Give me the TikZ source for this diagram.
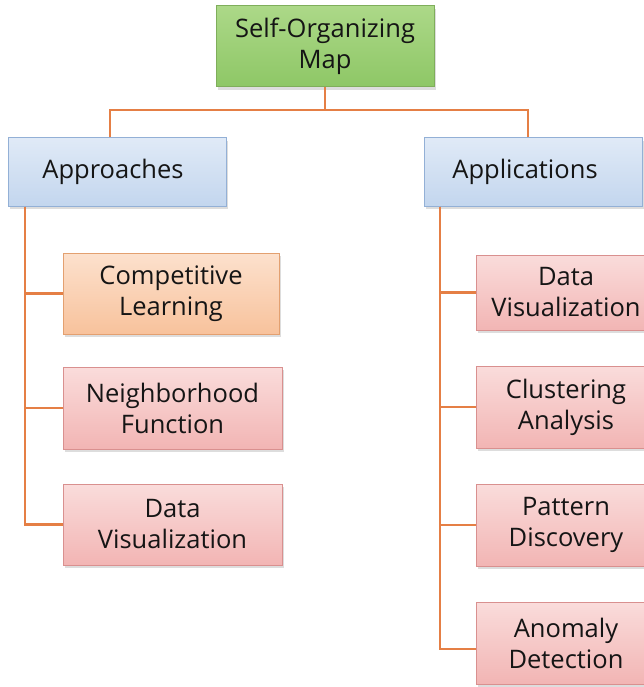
\documentclass[tikz,border=0pt]{standalone}
\usepackage{fontspec}
\setmainfont{Open Sans}
\usetikzlibrary{shadows,calc}
\definecolor{linkc}{HTML}{E57F45}
\definecolor{txt}{HTML}{151515}
\definecolor{gtop}{HTML}{ACD888}
\definecolor{gbot}{HTML}{8EC766}
\definecolor{gbrd}{HTML}{7FAE5B}
\definecolor{btop}{HTML}{E0EAF7}
\definecolor{bbot}{HTML}{C3D6EE}
\definecolor{bbrd}{HTML}{93B0D6}
\definecolor{otop}{HTML}{FCE1CD}
\definecolor{obot}{HTML}{F8C29C}
\definecolor{obrd}{HTML}{E3A070}
\definecolor{rtop}{HTML}{FADCDB}
\definecolor{rbot}{HTML}{F2B5B4}
\definecolor{rbrd}{HTML}{D9908F}
\begin{document}
\begin{tikzpicture}[x=1pt,y=-1pt,
  box/.style={rectangle, text=txt, align=center, font=\fontsize{25.5}{31}\selectfont,
    line width=1pt, inner sep=0pt,
    drop shadow={shadow xshift=2pt, shadow yshift=-3pt, opacity=0.22, fill=black!60}},
  rootbox/.style={box, draw=gbrd, top color=gtop, bottom color=gbot},
  headbox/.style={box, draw=bbrd, top color=btop, bottom color=bbot},
  orangebox/.style={box, draw=obrd, top color=otop, bottom color=obot},
  redbox/.style={box, draw=rbrd, top color=rtop, bottom color=rbot},
  link/.style={draw=linkc, line width=2.2pt}]
\useasboundingbox (0,0) rectangle (644,687);
\begin{scope}
\clip (0,0) rectangle (644,687);

% root and the two main branches
\node[rootbox, minimum width=218pt, minimum height=81pt] (root) at (325,46.5) {Self-Organizing\\Map};
\node[headbox, minimum width=218pt, minimum height=68pt] (appr) at (117,172) {\hspace*{-8pt}Approaches};
\node[headbox, minimum width=218pt, minimum height=68pt] (appl) at (533,172) {\hspace*{-16pt}Applications};

% approaches
\node[orangebox, minimum width=216pt, minimum height=81pt] (comp) at (171,293.5) {Competitive\\Learning};
\node[redbox, minimum width=219pt, minimum height=82pt] (neigh) at (172.5,408) {Neighborhood\\Function};
\node[redbox, minimum width=219pt, minimum height=81pt] (dvl) at (172.5,524.5) {Data\\Visualization};

% applications
\node[redbox, minimum width=180pt, minimum height=75pt] (dvr) at (566,292.5) {Data\\Visualization};
\node[redbox, minimum width=180pt, minimum height=82pt] (clus) at (566,407) {Clustering\\Analysis};
\node[redbox, minimum width=180pt, minimum height=82pt] (patt) at (566,525) {Pattern\\Discovery};
\node[redbox, minimum width=180pt, minimum height=82pt] (anom) at (566,643) {Anomaly\\Detection};

% connectors
\coordinate (bus) at (325,110);
\coordinate (lt) at (25,0);
\coordinate (rt) at (440,0);
\draw[link] (root.south) -- (bus);
\draw[link] (appr.north -| 110,0) |- (bus) -| (appl.north -| 528,0);
\draw[link] (appr.south -| lt) |- (comp.west);
\draw[link] (appr.south -| lt) |- (neigh.west);
\draw[link] (appr.south -| lt) |- (dvl.west);
\draw[link] (appl.south -| rt) |- (dvr.west);
\draw[link] (appl.south -| rt) |- (clus.west);
\draw[link] (appl.south -| rt) |- (patt.west);
\draw[link] (appl.south -| rt) |- ([yshift=-6pt]anom.west);
\end{scope}
\end{tikzpicture}
\end{document}
